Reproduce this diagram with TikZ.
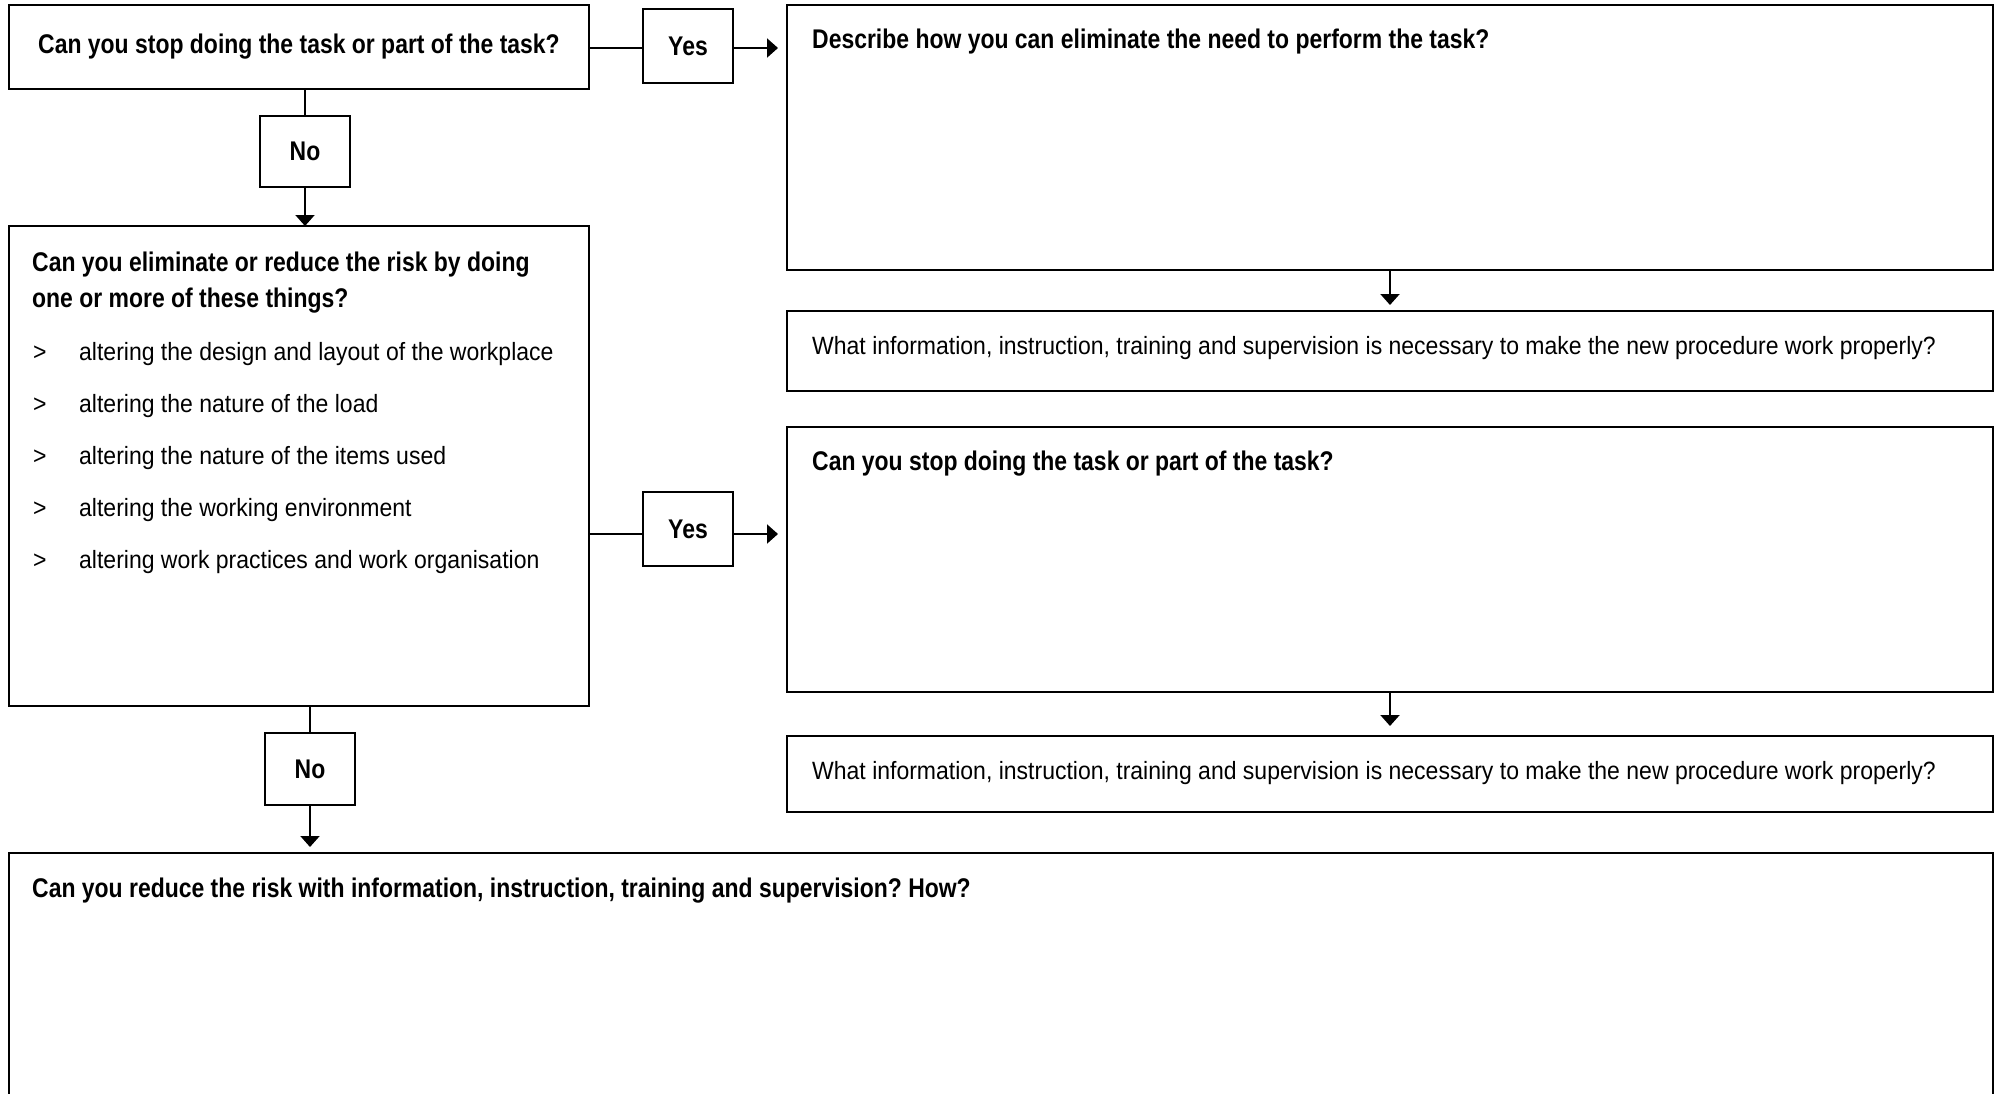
\documentclass[tikz,border=0pt]{standalone}
\usepackage{fontspec}
\setmainfont[FakeStretch=0.92]{Liberation Sans}
\newfontfamily\condsans[FakeStretch=0.85]{Liberation Sans}
\usetikzlibrary{arrows.meta}
\frenchspacing
\begin{document}
\begin{tikzpicture}[x=1pt,y=-1pt,
  bfnt/.style={font=\condsans\bfseries\fontsize{27}{32}\selectfont},
  box/.style={draw, line width=1.3pt, inner sep=0pt, outer sep=0pt, anchor=north west},
  lbl/.style={draw, line width=1.3pt, inner sep=0pt, outer sep=0pt, minimum width=90pt, bfnt},
  conn/.style={line width=2pt},
  arr/.style={line width=2pt, -{Triangle[length=11pt,width=19pt]}},
  bt/.style={bfnt, inner sep=0pt, anchor=base west},
  rt/.style={font=\fontsize{25}{30}\selectfont, inner sep=0pt, anchor=base west},
]
\useasboundingbox (0,0) rectangle (1998,1093);
\fill[white] (0,0) rectangle (1998,1093);

% boxes
\node[box, minimum width=580pt, minimum height=84pt, bfnt] (q1) at (9,5) {Can you stop doing the task or part of the task?};
\node[box, minimum width=1206pt, minimum height=265pt] (desc) at (787,5) {};
\node[box, minimum width=1206pt, minimum height=80pt] (info1) at (787,311) {};
\node[box, minimum width=580pt, minimum height=480pt] (q2) at (9,226) {};
\node[box, minimum width=1206pt, minimum height=265pt] (stop2) at (787,427) {};
\node[box, minimum width=1206pt, minimum height=76pt] (info2) at (787,736) {};
\node[box, minimum width=1984pt, minimum height=250pt] (q3) at (9,853) {};

% label boxes
\node[lbl, minimum height=74pt] (y1) at (688,46) {Yes};
\node[lbl, minimum height=74pt] (y2) at (688,529) {Yes};
\node[lbl, minimum height=71pt] (n1) at (305,151.5) {No};
\node[lbl, minimum height=72pt] (n2) at (310,769) {No};

% texts
\node[bt] (tdesc) at (812,48) {Describe how you can eliminate the need to perform the task?};
\node[rt] (tinfo1) at (812,354) {What information, instruction, training and supervision is necessary to make the new procedure work properly?};
\node[bt] (tstop2) at (812,470) {Can you stop doing the task or part of the task?};
\node[rt] (tinfo2) at (812,779) {What information, instruction, training and supervision is necessary to make the new procedure work properly?};
\node[bt] (tq3) at (32,897) {Can you reduce the risk with information, instruction, training and supervision? How?};
\node[bt] (tq2a) at (32,271) {Can you eliminate or reduce the risk by doing};
\node[bt] (tq2b) at (32,307) {one or more of these things?};

\node[rt] (g1) at (33,360) {>};
\node[rt] (i1) at (79,360) {altering the design and layout of the workplace};
\node[rt] (g2) at (33,412) {>};
\node[rt] (i2) at (79,412) {altering the nature of the load};
\node[rt] (g3) at (33,464) {>};
\node[rt] (i3) at (79,464) {altering the nature of the items used};
\node[rt] (g4) at (33,516) {>};
\node[rt] (i4) at (79,516) {altering the working environment};
\node[rt] (g5) at (33,568) {>};
\node[rt] (i5) at (79,568) {altering work practices and work organisation};

% connector anchor points
\coordinate (y1w) at ([yshift=-2pt]y1.west);
\coordinate (y1e) at ([yshift=-2pt]y1.east);
\coordinate (y2w) at ([yshift=-5pt]y2.west);
\coordinate (y2e) at ([yshift=-5pt]y2.east);

% connectors
\draw[conn] (q1.east |- y1w) -- (y1w);
\draw[arr, shorten >=9pt] (y1e) -- (y1e -| desc.west);
\draw[conn] (q1.south -| n1) -- (n1.north);
\draw[arr] (n1.south) -- (n1.south |- q2.north);
\draw[arr, shorten >=6pt] (desc.south) -- (info1.north);
\draw[conn] (q2.east |- y2w) -- (y2w);
\draw[arr, shorten >=9pt] (y2e) -- (y2e -| stop2.west);
\draw[arr, shorten >=10pt] (stop2.south) -- (info2.north);
\draw[conn] (q2.south -| n2) -- (n2.north);
\draw[arr, shorten >=6pt] (n2.south) -- (n2.south |- q3.north);
\end{tikzpicture}
\end{document}
